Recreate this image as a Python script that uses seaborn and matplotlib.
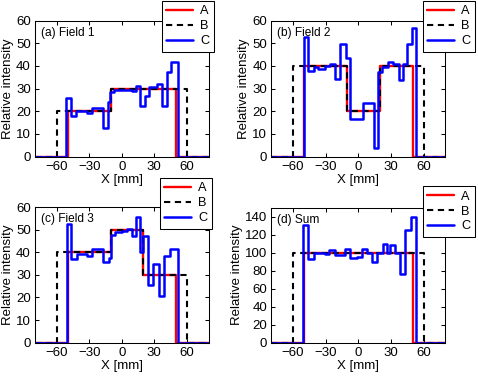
import pandas as pd
import matplotlib
matplotlib.use('Agg')
import matplotlib.pyplot as plt
import seaborn as sns

# step profiles: interval edges in mm and one level per interval
a_A_edges = [-80, -50, -10, 50, 80]
a_A_vals = [0, 20, 30, 0]
a_B_edges = [-80, -60, -10, 60, 80]
a_B_vals = [0, 20, 30, 0]
a_C_edges = [-80, -51, -47, -42.5, -32.5, -27.5, -17, -12.5, -10.5, -7, 9, 13, 17,
             21.5, 25, 32.5, 37, 41.5, 45.5, 52, 80]
a_C_vals = [0, 26, 18, 20.3, 19.4, 21.4, 12.8, 24, 28.4, 29.3, 29, 31.3, 22.2,
            26.8, 30.5, 32, 22.2, 37.3, 41.6, 0]

b_A_edges = [-80, -50, -10, 20, 50, 80]
b_A_vals = [0, 40, 20, 40, 0]
b_B_edges = [-80, -60, -10, 20, 60, 80]
b_B_vals = [0, 40, 20, 40, 0]
b_C_edges = [-80, -50, -46, -41, -37, -31, -26, -21.5, -17, -11.5, -8, 4, 14, 18.5,
             21.5, 27.5, 32, 37, 41, 44.5, 49, 53, 80]
b_C_vals = [0, 52.6, 37.7, 39.5, 38.6, 39.8, 40.8, 34.3, 49.6, 43.7, 16.4, 23.7, 3.7,
            37.3, 39.6, 41.8, 41, 33.6, 41, 49.6, 56.9, 0]

c_A_edges = [-80, -50, -10, 20, 50, 80]
c_A_vals = [0, 40, 50, 30, 0]
c_B_edges = [-80, -60, -10, 20, 60, 80]
c_B_vals = [0, 40, 50, 30, 0]
c_C_edges = [-80, -50.5, -46.5, -41.7, -32.4, -27.2, -17, -11.5, -9.5, -6.2, 0, 4.6, 9.3,
             13.3, 17, 20, 23.8, 28.7, 34, 39.2, 44.8, 52, 80]
c_C_vals = [0, 52.5, 37.2, 39.2, 38.5, 41.5, 35.8, 37.5, 47.8, 48.8, 49.6, 50.2, 47.3,
            55.5, 40, 47, 25.5, 35, 20.5, 38.5, 41.3, 0]

d_A_edges = [-80, -50, 50, 80]
d_A_vals = [0, 100, 0]
d_B_edges = [-80, -60, 60, 80]
d_B_vals = [0, 100, 0]
d_C_edges = [-80, -50.5, -46, -41, -31, -27, -21, -12, -7.5, -1.5, 3.5, 8, 12.5, 17,
             22.5, 26.5, 29.5, 33.5, 38, 42.5, 48, 53, 80]
d_C_vals = [0, 131, 93, 99.5, 98, 103, 97, 104, 93.5, 95, 103.5, 99, 90, 100, 109, 99,
            108, 99, 76, 125, 140, 0]

panel_titles = ['(a) Field 1', '(b) Field 2', '(c) Field 3', '(d) Sum']
x_ticks = [-60, -30, 0, 30, 60]

FS_TICK = 9.5
FS_LABEL = 9.5
FS_TITLE = 8.6
FS_LEG = 9.2

sns.set_theme(style='ticks')
plt.rcParams.update({
    'axes.linewidth': 0.75,
    'axes.edgecolor': 'black',
    'xtick.color': 'black',
    'ytick.color': 'black',
    'text.color': 'black',
    'axes.labelcolor': 'black',
})
plt.rcParams['font.family'] = ['Liberation Sans', 'DejaVu Sans']

W, H = 478, 376
fig = plt.figure(figsize=(W / 100, H / 100), dpi=100)


def steps(edges, vals):
    return pd.DataFrame({'x': edges, 'y': list(vals) + [vals[-1]]})


panels = [
    (a_A_edges, a_A_vals, a_B_edges, a_B_vals, a_C_edges, a_C_vals),
    (b_A_edges, b_A_vals, b_B_edges, b_B_vals, b_C_edges, b_C_vals),
    (c_A_edges, c_A_vals, c_B_edges, c_B_vals, c_C_edges, c_C_vals),
    (d_A_edges, d_A_vals, d_B_edges, d_B_vals, d_C_edges, d_C_vals),
]
# axes boxes in pixels: left, top, right, bottom
boxes = [(35, 20.5, 208.5, 156.7), (271.3, 20.5, 445.3, 156.7),
         (35, 207, 208.5, 342.7), (271.3, 207.5, 445.3, 342.7)]
# legend upper-right corner in pixels
leg_corners = [(214.3, 0.5), (475.3, 0.5), (212.3, 177.5), (475.3, 186)]

for i, (ae, av, be, bv, ce, cv) in enumerate(panels):
    l, t, r, b = boxes[i]
    ax = fig.add_axes([l / W, 1 - b / H, (r - l) / W, (b - t) / H])
    sns.lineplot(data=steps(ae, av), x='x', y='y', drawstyle='steps-post',
                 estimator=None, sort=False, color='#ff0000', lw=1.7, label='A', ax=ax)
    sns.lineplot(data=steps(be, bv), x='x', y='y', drawstyle='steps-post',
                 estimator=None, sort=False, color='black', lw=1.5,
                 linestyle=(0, (3, 2.2)), label='B', ax=ax)
    sns.lineplot(data=steps(ce, cv), x='x', y='y', drawstyle='steps-post',
                 estimator=None, sort=False, color='#0000ff', lw=1.8, label='C', ax=ax)

    ax.set_xlim(-80, 80)
    ax.set_xticks(x_ticks)
    if i == 3:
        ax.set_ylim(0, 150)
        ax.set_yticks(range(0, 141, 20))
    else:
        ax.set_ylim(0, 60)
        ax.set_yticks(range(0, 61, 10))
    ax.tick_params(direction='in', length=3, width=0.75, top=True, right=True,
                   pad=3, labelsize=FS_TICK)
    ax.set_xlabel('X [mm]', labelpad=1, fontsize=FS_LABEL)
    ax.set_ylabel('Relative intensity', labelpad=1.5, fontsize=FS_LABEL)
    ax.text(0.033, 0.91, panel_titles[i], transform=ax.transAxes,
            ha='left', va='center', fontsize=FS_TITLE)

    lx, ly = leg_corners[i]
    leg = ax.legend(loc='upper right', bbox_to_anchor=(lx / W, 1 - ly / H),
                    bbox_transform=fig.transFigure, frameon=True, fancybox=False,
                    framealpha=1, edgecolor='black', borderpad=0.38,
                    labelspacing=0.22, handlelength=2.1, handletextpad=0.55,
                    borderaxespad=0, fontsize=FS_LEG)
    leg.get_frame().set_linewidth(0.75)

fig.savefig('out.png', dpi=100)
